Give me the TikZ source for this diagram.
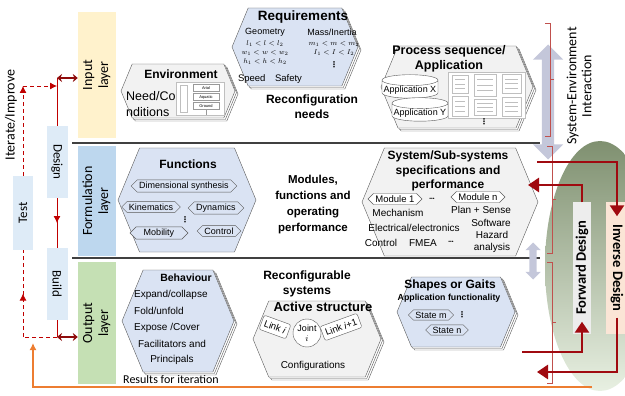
\documentclass[tikz,border=0pt]{standalone}
\usepackage{amsmath}
\usepackage{fontspec}
\setmainfont{Liberation Sans}
\newfontfamily\calib{Carlito}
\newfontfamily\dejavu{DejaVu Sans}
\usetikzlibrary{positioning,arrows.meta,shapes.symbols,shapes.geometric,shapes.arrows,shadows,decorations.markings}

\definecolor{bandyellow}{HTML}{FFF2CC}
\definecolor{bandblue}{HTML}{BDD7EE}
\definecolor{bandgreen}{HTML}{C5E0B4}
\definecolor{hexblue}{HTML}{DAE3F3}
\definecolor{hexgray}{HTML}{F2F2F2}
\definecolor{edge}{HTML}{595959}
\definecolor{loopblue}{HTML}{DEEBF7}
\definecolor{loopred}{HTML}{C00000}
\definecolor{darkred}{HTML}{8E0B0B}
\definecolor{bigred}{HTML}{A00A10}
\definecolor{bracered}{HTML}{C0504D}
\definecolor{resorange}{HTML}{ED7D31}
\definecolor{lavender}{HTML}{C4C7DA}
\definecolor{fwdgray}{HTML}{EDEDED}
\definecolor{invpeach}{HTML}{FBE5D6}
\definecolor{ovaltop}{HTML}{7F9070}
\definecolor{ovalbot}{HTML}{E8F0E2}

\begin{document}
\begin{tikzpicture}[x=1pt, y=-1pt]
    \tikzstyle{every node}=[inner sep=0pt, align=center]
    \tikzstyle{band}=[minimum width=38pt, font=\calib\fontsize{14}{16}\selectfont]
    \tikzstyle{loopbox}=[fill=loopblue, minimum width=21pt, minimum height=72pt, font=\calib\fontsize{13}{15}\selectfont]
    \tikzstyle{hexa}=[signal, signal to=west and east, signal pointer angle=135, draw=edge]
    \tikzstyle{stack}=[double copy shadow={shadow xshift=1.5pt, shadow yshift=-1.5pt, fill=white, draw=edge}]
    \tikzstyle{tag}=[signal, signal to=west and east, signal pointer angle=90, draw=edge, inner xsep=2pt, inner ysep=2pt, font=\fontsize{9}{10}\selectfont]
    \tikzstyle{head}=[font=\fontsize{12}{15}\selectfont\bfseries]
    \tikzstyle{txt}=[font=\fontsize{10}{12}\selectfont]
    \tikzstyle{vdot}=[font=\dejavu\bfseries\fontsize{8}{8}\selectfont]
    \tikzstyle{hdot}=[font=\fontsize{5}{5}\selectfont]
    \tikzstyle{calibtext}=[font=\calib\fontsize{12}{14}\selectfont]
    \tikzstyle{loopline}=[loopred, thick]
    \tikzstyle{loopdash}=[loopred, thick, dash pattern=on 4pt off 3pt]
    \tikzstyle{layerlink}=[darkred, line width=2pt, {Stealth[length=5pt,width=8pt]}-{Stealth[length=5pt,width=8pt]}]
    \tikzstyle{midarrow}=[postaction={decorate, decoration={markings, mark=at position 0.5 with {\arrow{Latex[length=7pt,width=7pt]}}}}]
    \tikzstyle{bigarrow}=[bigred, line width=2.6pt, -{Triangle[length=11pt,width=14pt]}]
    \tikzstyle{brace}=[bracered, thin]
    \tikzstyle{inset}=[draw=black!25, fill=white, line width=0.3pt]
    \tikzstyle{db}=[cylinder, shape border rotate=90, aspect=0.2, draw=edge, fill=white, minimum width=56pt, minimum height=19pt, inner xsep=1pt, font=\fontsize{9}{10}\selectfont]
    \tikzstyle{linkbar}=[draw=edge, fill=white, rounded corners=2pt, minimum height=15pt, inner xsep=3pt, font=\fontsize{9.5}{10}\selectfont]
    \tikzstyle{updown}=[double arrow, rotate=90, fill=lavender]

    \useasboundingbox (0,0) rectangle (625,396);

    % green oval behind the design boxes
    \begin{scope}
        \clip (0,0) rectangle (625,396);
        \shade[top color=ovaltop, bottom color=ovalbot] (600,266) ellipse [x radius=55, y radius=125];
    \end{scope}

    % layer bands and separators
    \node[band, fill=bandyellow, minimum height=126pt] (inp) at (97,75) {\rotatebox{90}{\begin{tabular}{@{}c@{}}Input\\layer\end{tabular}}};
    \node[band, fill=bandblue, minimum height=110pt] (form) at (97,201) {\rotatebox{90}{\begin{tabular}{@{}c@{}}Formulation\\layer\end{tabular}}};
    \node[band, fill=bandgreen, minimum height=122pt] (outp) at (97,323) {\rotatebox{90}{\begin{tabular}{@{}c@{}}Output\\layer\end{tabular}}};
    \draw[black!75, line width=1.5pt] (72,143) -- (540,143);
    \draw[black!75, line width=1.5pt] (72,258) -- (540,258);

    % design / build / test loop
    \node[loopbox] (design) at (57,162) {\rotatebox{-90}{Design}};
    \node[loopbox] (build) at (57,284) {\rotatebox{-90}{Build}};
    \node[loopbox, minimum width=20pt, minimum height=74pt] (test) at (23,213) {\rotatebox{90}{Test}};
    \node[calibtext, rotate=90, font=\calib\fontsize{14}{16}\selectfont] (iter) at (11,115) {Iterate/Improve};
    \coordinate (dtop) at (57,78);
    \coordinate (turn) at (23,86);
    \coordinate (btm) at (57,337);
    \coordinate (corner) at (23,337);
    \draw[loopline] (design.north) -- (dtop);
    \draw[layerlink] (dtop) -- (dtop -| inp.west);
    \draw[loopdash, -{Latex[length=7pt,width=7pt]}] (test.north) -- (turn);
    \draw[loopdash, -{Latex[length=7pt,width=7pt]}] (turn) -- (turn -| design);
    \draw[loopline, midarrow] (design) -- (build);
    \draw[loopline] (build.south) -- (btm);
    \draw[layerlink] (btm) -- (btm -| outp.west);
    \draw[loopdash] (btm) -- (corner);
    \draw[loopdash, midarrow] (corner) -- (test.south);

    % results fed back
    \coordinate (ostart) at (592,387);
    \coordinate (otip) at (33,343);
    \draw[resorange, line width=1.5pt, -{Latex[length=7pt,width=7pt]}] (ostart) -| (otip);
    \node[calibtext] (res) at (171,379) {Results for iteration};

    % input layer
    \node[hexa, stack, fill=hexgray, minimum width=114pt, minimum height=54pt] (env) at (178,91) {};
    \node[head] (envt) at (181,74) {Environment};
    \node[font=\fontsize{12.5}{16}\selectfont, align=left, anchor=west] (need) at (126,104) {Need/Co\\nditions};
    \draw[inset] (176,82) rectangle (224,115);
    \draw[inset] (180,85) rectangle (187,112);
    \foreach \name [count=\i] in {Arial,Aquatic,Ground}
        \node[inset, draw=black!40, minimum width=26pt, minimum height=7pt, font=\fontsize{4}{4}\selectfont] (terr\i) at (206,79+9*\i) {\name};
    \draw[black!40, line width=0.3pt] (terr3.south) -- ++(0,5);

    \node[hexa, stack, fill=hexblue, minimum width=126pt, minimum height=78pt] (req) at (295,47) {};
    \node[head, font=\fontsize{13.5}{15}\selectfont\bfseries] (reqt) at (303,17) {Requirements};
    \node[font=\fontsize{9}{10}\selectfont] (geo) at (265,32) {Geometry};
    \node[font=\fontsize{9}{10}\selectfont] (mass) at (332,32) {Mass/Inertia};
    \node[font=\fontsize{7.5}{9}\selectfont] (geob) at (265,53) {$l_1<l<l_2$\\$w_1<w<w_2$\\$h_1<h<h_2$};
    \node[font=\fontsize{7.5}{9}\selectfont] (massb) at (334,48.5) {$m_1<m<m_2$\\$I_1<I<I_2$};
    \node[vdot] (reqdots) at (334,65) {⋮};
    \node[font=\fontsize{9.5}{11}\selectfont] (speed) at (270,79) {Speed\quad Safety};
    \node[head] (needs) at (312,107) {Reconfiguration\\needs};

    \node[hexa, stack, fill=hexgray, minimum width=152pt, minimum height=82pt] (proc) at (457,87) {};
    \node[head, font=\fontsize{12.5}{15}\selectfont\bfseries] (proct) at (449,59) {Process sequence/\\Application};
    \node[db] (appx) at (410,90) {Application X};
    \node[db] (appy) at (420,113) {Application Y};
    \draw[inset] (448,72) rectangle (525,118);
    \foreach \x/\y/\w/\h in {452/75/16/18, 452/96/16/20, 474/74/22/22, 474/99/22/16, 502/74/19/19, 502/97/19/19}
        \draw[inset] (\x,\y) rectangle ++(\w,\h)
            \foreach \k in {1,2,3} {(\x+3,\y+\k*\h/4) -- ++(\w-6,0)};
    \node[vdot] (procdots) at (484,122) {⋮};

    % formulation layer
    \node[hexa, fill=hexblue, minimum width=138pt, minimum height=104pt] (func) at (187,200) {};
    \node[head] (funct) at (188,164) {Functions};
    \node[tag, fill=hexblue] (dim) at (184,186) {Dimensional synthesis};
    \node[tag, fill=hexblue] (kin) at (151,207) {Kinematics};
    \node[tag, fill=hexblue] (dyn) at (216,208) {Dynamics};
    \node[vdot] (fdots) at (185,220) {⋮};
    \node[tag, fill=hexblue, minimum width=58pt] (mob) at (159,233) {Mobility};
    \node[tag, fill=hexblue] (ctl) at (219,231) {Control};
    \node[head, font=\fontsize{11.5}{16}\selectfont\bfseries] (mods) at (313,205) {Modules,\\functions and\\operating\\performance};

    \node[hexa, fill=hexgray, minimum width=176pt, minimum height=108pt] (sys) at (450,202) {};
    \node[head, font=\fontsize{12}{14.5}\selectfont\bfseries] (syst) at (448,171) {System/Sub-systems\\specifications and\\performance};
    \node[tag, fill=white, font=\fontsize{9.5}{10}\selectfont] (mod1) at (395,199) {Module 1};
    \node[hdot] (sdots1) at (432,199) {\textbullet\textbullet\textbullet};
    \node[tag, fill=white, font=\fontsize{9.5}{10}\selectfont] (modn) at (478,197) {Module n};
    \node[txt] (mech) at (398,213) {Mechanism};
    \node[txt] (plan) at (481,210) {Plan + Sense};
    \node[txt] (soft) at (491,223) {Software};
    \node[txt] (elec) at (414,228) {Electrical/electronics};
    \node[txt] (ctrl) at (381,243) {Control};
    \node[txt] (fmea) at (423,243) {FMEA};
    \node[hdot] (sdots2) at (451,242) {\textbullet\textbullet\textbullet};
    \node[txt] (haz) at (492,242) {Hazard\\analysis};

    % output layer
    \node[hexa, stack, fill=hexblue, minimum width=112pt, minimum height=102pt] (beh) at (178,321) {};
    \node[font=\fontsize{10.5}{12}\selectfont\bfseries] (beht) at (186,278) {Behaviour};
    \node[txt, anchor=west] (expa) at (134,295) {Expand/collapse};
    \node[txt, anchor=west] (fold) at (134,311) {Fold/unfold};
    \node[txt, anchor=west] (expo) at (134,328) {Expose /Cover};
    \node[txt, font=\fontsize{10}{15}\selectfont] (faci) at (172,352) {Facilitators and\\Principals};
    \node[head] (recs) at (307,284) {Reconfigurable\\systems};

    \node[hexa, stack, fill=hexgray, minimum width=128pt, minimum height=76pt] (act) at (317,339) {};
    \node[head, font=\fontsize{13}{15}\selectfont\bfseries] (actt) at (323,307) {Active structure};
    \node[draw=edge, fill=white, circle, minimum size=28pt, font=\fontsize{9}{10}\selectfont] (joint) at (307,333) {Joint\\$i$};
    \node[linkbar, rotate=-20] (linki) at (275,327) {Link \textit{i}};
    \node[linkbar, rotate=20] (linkj) at (341,327) {Link \textit{i}+1};
    \node[txt] (conf) at (313,366) {Configurations};

    \node[hexa, stack, fill=hexblue, minimum width=118pt, minimum height=70pt] (shape) at (456,312) {};
    \node[head] (shapet) at (450,285) {Shapes or Gaits};
    \node[font=\fontsize{8.8}{10}\selectfont\bfseries] (appf) at (449,298) {Application functionality};
    \node[tag, fill=hexblue] (stm) at (431,315) {State m};
    \node[vdot] (stdots) at (462,315) {⋮};
    \node[tag, fill=hexblue] (stn) at (447,330) {State n};

    % system-environment side
    \node[calibtext, rotate=90, font=\calib\fontsize{14}{15}\selectfont] (sei) at (579,86) {System-Environment\\Interaction};
    \node[updown, minimum height=115pt, inner ysep=6pt, double arrow head extend=9pt] (gar1) at (548,102) {};
    \node[updown, minimum height=37pt, inner ysep=3.5pt, double arrow head extend=4pt] (gar2) at (533,261) {};
    \draw[brace] (545,23) -- (550,23) -- (550,136) -- (545,136) (550,79) -- (554,79);
    \draw[brace] (547,146) -- (552,146) -- (552,253) -- (547,253) (552,199) -- (556,199);
    \draw[brace] (547,262) -- (552,262) -- (552,383) -- (547,383) (552,322) -- (556,322);

    \node[fill=fwdgray, minimum width=18pt, minimum height=131pt, font=\calib\fontsize{14.5}{16}\selectfont\bfseries] (fwd) at (582,268) {\rotatebox{90}{Forward Design}};
    \node[fill=invpeach, minimum width=22pt, minimum height=131pt, font=\calib\fontsize{14.5}{16}\selectfont\bfseries] (inv) at (617,268) {\rotatebox{-90}{Inverse Design}};
    \coordinate (ia) at (537,162);
    \coordinate (fa) at (528,185);
    \coordinate (fb) at (522,352);
    \coordinate (ib) at (537,372);
    \draw[bigarrow] (ia) -| ([yshift=-14pt]inv.north);
    \draw[bigarrow] (fwd.north) |- (fa);
    \draw[bigarrow] (fb) -| ([yshift=12pt]fwd.south);
    \draw[bigarrow] ([yshift=16pt]inv.south) |- (ib);
\end{tikzpicture}
\end{document}
